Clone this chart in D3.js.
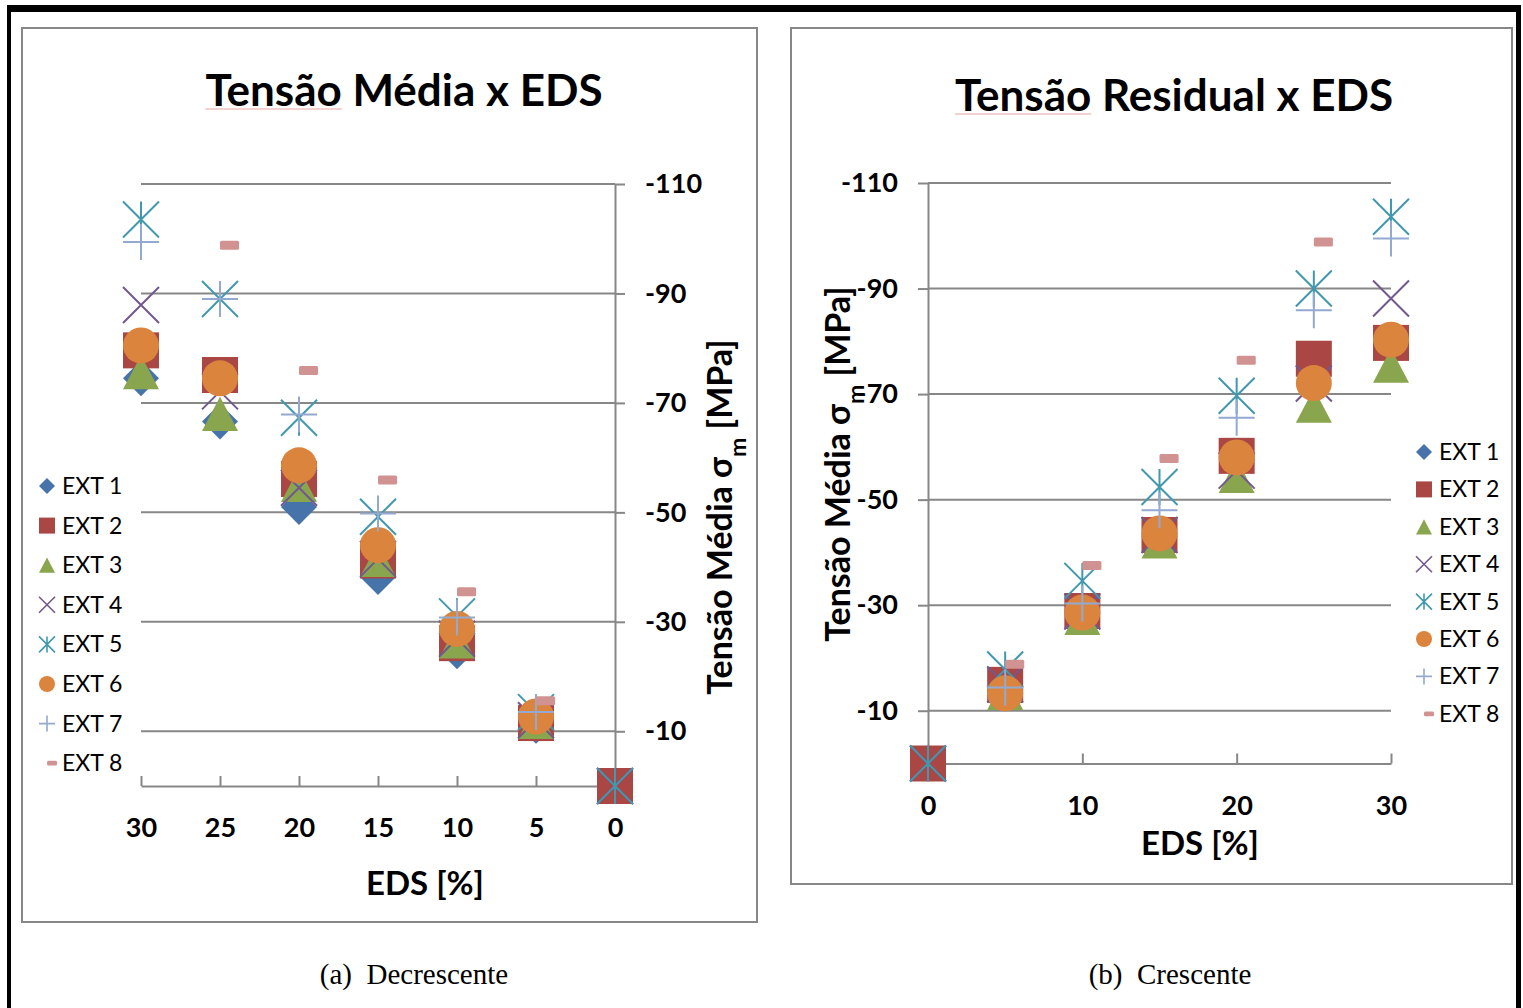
<!DOCTYPE html>
<html>
<head>
<meta charset="utf-8">
<script src="https://cdn.jsdelivr.net/npm/d3@7"></script>
<style>
  html, body { margin: 0; padding: 0; background: #fff; }
  svg { display: block; }
</style>
</head>
<body>
<svg id="chart" width="1523" height="1008"></svg>
<script>
// ---- data -------------------------------------------------------------
const seriesNames = ["EXT 1", "EXT 2", "EXT 3", "EXT 4", "EXT 5", "EXT 6", "EXT 7", "EXT 8"];
const seriesColors = ["#4673a9", "#aa4643", "#89a54e", "#71588f", "#4198af", "#db843d", "#93a9cf", "#d19392"];
const seriesMarkers = ["diamond", "square", "triangle", "x", "asterisk", "circle", "plus", "dash"];

const yTickValues = [-10, -30, -50, -70, -90, -110];

// (a) Decrescente: EDS steps from 30 % down to 0 %
const edsDecrescente = [30, 25, 20, 15, 10, 5, 0];
const tensaoDecrescente = [
  [-74.5, -66.6, -51.0, -38.2, -24.6, -11.0, 0],    // EXT 1
  [-79.6, -75.1, -56.1, -41.2, -26.1, -11.5, 0],    // EXT 2
  [-75.6, -68.0, -55.0, -41.3, -26.4, -11.7, null], // EXT 3
  [-87.9, -72.1, -54.5, -41.5, -26.9, -12.0, 0],    // EXT 4
  [-103.5, -89.0, -67.3, -49.2, -31.0, -13.5, 0],   // EXT 5
  [-80.5, -74.5, -58.6, -44.0, -28.7, -12.7, null], // EXT 6
  [-99.4, -89.0, -67.9, -49.8, -30.8, -13.5, null], // EXT 7
  [null, -98.8, -75.9, -55.9, -35.5, -15.6, null]   // EXT 8
];

// (b) Crescente: EDS steps from 0 % up to 30 %
const edsCrescente = [0, 5, 10, 15, 20, 25, 30];
const tensaoCrescente = [
  [0, -14.6, -28.6, -43.0, -57.5, -75.5, -78.8],    // EXT 1
  [0, -14.9, -28.9, -43.3, -58.3, -76.7, -79.7],    // EXT 2
  [null, -13.4, -27.6, -42.1, -54.5, -67.8, -75.4], // EXT 3
  [0, -15.0, -28.8, -43.3, -55.5, -72.0, -88.1],    // EXT 4
  [0, -17.8, -34.6, -52.4, -69.7, -90.0, -103.6],   // EXT 5
  [null, -13.3, -28.6, -43.6, -58.0, -72.1, -80.3], // EXT 6
  [null, -14.4, -30.3, -48.0, -65.5, -85.9, -99.5], // EXT 7
  [null, -18.8, -37.5, -57.8, -76.4, -98.8, null]   // EXT 8
];

// ---- drawing ----------------------------------------------------------
const FONT = "Lato, 'Open Sans', 'DejaVu Sans', sans-serif";
const AXIS_GRAY = "#878787";
const svg = d3.select("#chart");

// page frame
svg.append("rect").attr("x", 7).attr("y", 5).attr("width", 1514).attr("height", 7).attr("fill", "#000");
svg.append("rect").attr("x", 7).attr("y", 5).attr("width", 4).attr("height", 1003).attr("fill", "#000");
svg.append("rect").attr("x", 1516).attr("y", 5).attr("width", 5).attr("height", 1003).attr("fill", "#000");

function drawMarker(g, type, size, color) {
  const s = size / 2;
  const sw = size > 20 ? 2 : 1.6;
  switch (type) {
    case "diamond":
      g.append("path").attr("d", `M0,${-s}L${s},0L0,${s}L${-s},0Z`).attr("fill", color);
      break;
    case "square":
      g.append("rect").attr("x", -s).attr("y", -s).attr("width", size).attr("height", size).attr("fill", color);
      break;
    case "triangle": {
      const h = size * 0.95;
      g.append("path").attr("d", `M0,${-h / 2}L${s},${h / 2}L${-s},${h / 2}Z`).attr("fill", color);
      break;
    }
    case "x":
      g.append("path").attr("d", `M${-s},${-s}L${s},${s}M${-s},${s}L${s},${-s}`)
        .attr("stroke", color).attr("stroke-width", sw).attr("fill", "none");
      break;
    case "asterisk":
      g.append("path").attr("d", `M${-s},${-s}L${s},${s}M${-s},${s}L${s},${-s}M0,${-s}L0,${s}`)
        .attr("stroke", color).attr("stroke-width", sw).attr("fill", "none");
      break;
    case "circle":
      g.append("circle").attr("r", s).attr("fill", color);
      break;
    case "plus":
      g.append("path").attr("d", `M${-s},0L${s},0M0,${-s}L0,${s}`)
        .attr("stroke", color).attr("stroke-width", sw).attr("fill", "none");
      break;
    case "dash": {
      const w = size * 0.53, h = size * 0.25;
      g.append("rect").attr("x", 0).attr("y", -h / 2).attr("width", w).attr("height", h)
        .attr("rx", 1.5).attr("fill", color);
      break;
    }
  }
}

function drawTitle(text, cx, baseline) {
  const t = svg.append("text")
    .attr("x", cx).attr("y", baseline)
    .attr("text-anchor", "middle")
    .attr("font-family", FONT).attr("font-weight", "bold").attr("font-size", 44)
    .attr("fill", "#000")
    .text(text);
  // spell-check style underline below the first word
  const node = t.node();
  const box = node.getBBox();
  const firstLen = node.getSubStringLength(0, text.indexOf(" "));
  svg.append("line")
    .attr("x1", box.x).attr("x2", box.x + firstLen)
    .attr("y1", baseline + 3).attr("y2", baseline + 3)
    .attr("stroke", "#e6a3a3").attr("stroke-width", 1.2);
}

function drawYTitle(cx, cy) {
  const t = svg.append("text")
    .attr("transform", `translate(${cx},${cy}) rotate(-90)`)
    .attr("text-anchor", "middle").attr("dy", "0.35em")
    .attr("font-family", FONT).attr("font-weight", "bold").attr("font-size", 34)
    .attr("fill", "#000");
  t.append("tspan").text("Tensão Média σ");
  t.append("tspan").attr("baseline-shift", "sub").attr("font-size", 23).text("m");
  t.append("tspan").text(" [MPa]");
}

function drawPanel(cfg) {
  // chart area border
  svg.append("rect")
    .attr("x", cfg.box[0]).attr("y", cfg.box[1])
    .attr("width", cfg.box[2] - cfg.box[0]).attr("height", cfg.box[3] - cfg.box[1])
    .attr("fill", "#fff").attr("stroke", AXIS_GRAY).attr("stroke-width", 2);

  const x = d3.scaleLinear().domain(cfg.xDomain).range(cfg.xRange);
  const y = d3.scaleLinear().domain([0, -110]).range(cfg.yRange);
  const xMin = Math.min(...cfg.xRange), xMax = Math.max(...cfg.xRange);

  // horizontal gridlines
  svg.append("g").selectAll("line").data(yTickValues).join("line")
    .attr("x1", xMin).attr("x2", xMax)
    .attr("y1", d => y(d)).attr("y2", d => y(d))
    .attr("stroke", AXIS_GRAY).attr("stroke-width", 2);

  // value axis (plain hyphen as minus sign)
  const yAxis = (cfg.yAxisSide === "right" ? d3.axisRight(y) : d3.axisLeft(y))
    .tickValues(yTickValues).tickSizeInner(10).tickSizeOuter(0).tickPadding(20)
    .tickFormat(d => String(d));
  const gy = svg.append("g").attr("transform", `translate(${cfg.yAxisX},0)`).call(yAxis);

  // EDS axis
  const xAxis = d3.axisBottom(x).tickValues(cfg.xTicks)
    .tickSizeInner(-10).tickSizeOuter(0).tickFormat(d => String(d));
  const gx = svg.append("g").attr("transform", `translate(0,${y(0)})`).call(xAxis);
  gx.selectAll(".tick text").attr("y", cfg.xLabelOffset).attr("dy", "0.35em");

  [gx, gy].forEach(g => {
    g.select(".domain").attr("stroke", AXIS_GRAY).attr("stroke-width", 2);
    g.selectAll(".tick line").attr("stroke", AXIS_GRAY).attr("stroke-width", 2);
    g.selectAll(".tick text")
      .attr("font-family", FONT).attr("font-weight", "bold").attr("font-size", 27)
      .attr("fill", "#000");
  });

  // x axis title
  svg.append("text")
    .attr("x", cfg.xTitle[0]).attr("y", cfg.xTitle[1])
    .attr("text-anchor", "middle").attr("dy", "0.35em")
    .attr("font-family", FONT).attr("font-weight", "bold").attr("font-size", 33)
    .attr("fill", "#000").text("EDS [%]");

  drawYTitle(cfg.yTitle[0], cfg.yTitle[1]);
  drawTitle(cfg.title, cfg.titlePos[0], cfg.titlePos[1]);

  // markers, one series on top of the previous
  seriesNames.forEach((name, i) => {
    const pts = cfg.eds.map((e, j) => ({ e, v: cfg.values[i][j] })).filter(p => p.v !== null);
    const gs = svg.append("g");
    gs.selectAll("g").data(pts).join("g")
      .attr("transform", p => `translate(${x(p.e)},${y(p.v)})`)
      .each(function () { drawMarker(d3.select(this), seriesMarkers[i], 36, seriesColors[i]); });
  });

  // legend
  const lg = svg.append("g");
  seriesNames.forEach((name, i) => {
    const yy = cfg.legend[1] + i * cfg.legend[2];
    const m = lg.append("g").attr("transform", `translate(${cfg.legend[0]},${yy})`);
    drawMarker(m, seriesMarkers[i], seriesMarkers[i] === "dash" ? 19 : 16, seriesColors[i]);
    lg.append("text")
      .attr("x", cfg.legend[0] + 15).attr("y", yy).attr("dy", "0.35em")
      .attr("font-family", FONT).attr("font-size", 23).attr("fill", "#000")
      .text(name);
  });

  // caption
  svg.append("text")
    .attr("x", cfg.caption[0]).attr("y", cfg.caption[1])
    .attr("text-anchor", "middle")
    .attr("font-family", "'Liberation Serif', 'Times New Roman', serif").attr("font-size", 29)
    .attr("fill", "#000").text(cfg.captionText);
}

drawPanel({
  box: [22, 28, 757, 922],
  title: "Tensão Média x EDS", titlePos: [404, 106],
  xDomain: [30, 0], xRange: [141, 615], yRange: [786, 184],
  yAxisSide: "right", yAxisX: 615,
  xTicks: edsDecrescente, xLabelOffset: 42,
  xTitle: [425, 883], yTitle: [720, 517],
  eds: edsDecrescente, values: tensaoDecrescente,
  legend: [47, 486, 39.6],
  caption: [414, 984], captionText: "(a)\u00a0\u00a0Decrescente"
});

drawPanel({
  box: [791, 28, 1512, 884],
  title: "Tensão Residual x EDS", titlePos: [1174, 111],
  xDomain: [0, 30], xRange: [928, 1391], yRange: [763.5, 183],
  yAxisSide: "left", yAxisX: 928,
  xTicks: [0, 10, 20, 30], xLabelOffset: 42,
  xTitle: [1200, 843], yTitle: [838, 464],
  eds: edsCrescente, values: tensaoCrescente,
  legend: [1424, 452, 37.4],
  caption: [1170, 984], captionText: "(b)\u00a0\u00a0Crescente"
});
</script>
</body>
</html>
